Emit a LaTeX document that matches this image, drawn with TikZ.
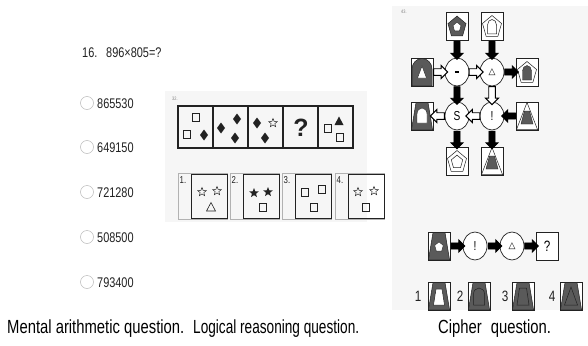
\documentclass[tikz,border=0pt]{standalone}
\usepackage{fontspec}
\setmainfont[FakeStretch=0.78]{Liberation Sans}
\newfontfamily\widesans{Liberation Sans}
\newfontfamily\symsans{DejaVu Sans}
\usetikzlibrary{shapes.geometric,shapes.arrows}
\definecolor{dk}{HTML}{5A5A5A}
\definecolor{panelbg}{HTML}{F6F6F6}
\definecolor{ink}{HTML}{222222}

% cipher glyph outlines, drawn round the local origin (y grows downwards)
\newcommand\cpent[1]{(0,{1-1.15*#1}) -- ({0.951*#1},{1-0.355*#1}) -- ({0.588*#1},{1+0.93*#1}) -- ({-0.588*#1},{1+0.93*#1}) -- ({-0.951*#1},{1-0.355*#1}) -- cycle}
\newcommand\carch[4]{(-#1,#2) -- (-#1,#3) arc[start angle=180,end angle=360,x radius=#1,y radius=#4] -- (#1,#2) -- cycle}
\newcommand\ctrap[4]{(-#1,#3) -- (#1,#3) -- (#2,#4) -- (-#2,#4) -- cycle}
\newcommand\ctri[3]{(0,#3) -- (#1,#2) -- (-#1,#2) -- cycle}

\tikzset{
  sqr/.pic={\draw[ink,line width=0.6pt] (-3.5,-4) rectangle (3.5,4);},
  dmd/.pic={\fill[ink] (0,-5.5) -- (4,0) -- (0,5.5) -- (-4,0) -- cycle;},
  solidtri/.pic={\fill[ink] (0,-4.5) -- (4.5,4) -- (-4.5,4) -- cycle;},
  hollowtri/.pic={\draw[ink,line width=0.6pt] (0,-4.5) -- (4.5,4) -- (-4.5,4) -- cycle;},
  hollowstar/.pic={\node[star,star points=5,star point ratio=2.3,draw=ink,line width=0.5pt,minimum size=9pt,inner sep=0pt]{};},
  solidstar/.pic={\node[star,star points=5,star point ratio=2.3,fill=ink,minimum size=10pt,inner sep=0pt]{};},
  txt/.style={anchor=base west,text=ink,inner sep=0pt},
  radio/.style={circle,draw=gray!55,line width=0.5pt,minimum size=13pt,inner sep=0pt},
  icon/.style={draw=ink,line width=0.7pt,fill=white,minimum width=22pt,minimum height=28pt,inner sep=0pt},
  oval/.style={ellipse,draw=ink,line width=0.7pt,fill=white,minimum width=24pt,minimum height=28pt,inner sep=0pt,font=\fontsize{13}{13}\selectfont},
  barrow/.style={single arrow,draw=black,line width=0.6pt,inner xsep=0pt,inner ysep=2.8pt,single arrow head extend=3.2pt,minimum width=0pt,allow upside down,sloped},
  blk/.style={barrow,fill=black},
  wht/.style={barrow,fill=white,line width=0.95pt},
  hlen/.style={minimum height=14pt},
  vlen/.style={minimum height=18pt},
}

\begin{document}
\begin{tikzpicture}[x=1pt,y=-1pt]
\useasboundingbox (0,0) rectangle (588,345);
\fill[white] (0,0) rectangle (588,345);

% ---------- mental arithmetic ----------
\node[txt,font=\fontsize{14}{14}\selectfont] (qnum) at (82,57) {16.};
\node[txt,font=\fontsize{14}{14}\selectfont] (qexp) at (106,57) {896×805=?};
\foreach \i/\y/\v in {1/103/865530,2/147/649150,3/192/721280,4/237/508500,5/282/793400}{
  \node[radio] (r\i) at (87,\y) {};
  \node[txt,font=\fontsize{14}{14}\selectfont] (a\i) at (97,\y+5) {\v};
}

% ---------- logical reasoning ----------
\fill[panelbg] (165,91) rectangle (367,222);
\node[anchor=base west,font=\fontsize{5}{5}\selectfont,text=gray,inner sep=0pt] (lnum) at (172,100) {32.};
\draw[ink,line width=1.1pt] (178,106) rectangle (353,148);
\foreach \x in {213,248,283,318} \draw[ink,line width=1.1pt] (\x,106) -- (\x,148);
% cell 1
\pic at (196,117) {sqr};
\pic at (187,134) {sqr};
\pic at (204,135) {dmd};
% cell 2
\pic at (221,128) {dmd};
\pic at (237,119) {dmd};
\pic at (235,138) {dmd};
% cell 3
\pic at (257,123) {dmd};
\pic at (273,123) {hollowstar};
\pic at (265,138) {dmd};
% cell 4
\node[font=\widesans\bfseries\fontsize{25}{25}\selectfont,text=ink,inner sep=0pt] (qmark) at (301,128) {?};
% cell 5
\pic at (328,128) {sqr};
\pic at (339,121) {solidtri};
\pic at (340,137) {sqr};
% answer choices
\foreach \k/\x in {1/178,2/230,3/282,4/335}{
  \draw[gray!60,line width=0.7pt] (\x,173) rectangle (\x+49,219);
  \draw[ink,line width=0.9pt] (\x+13,174) rectangle (\x+49,218);
  \node[anchor=north west,font=\fontsize{10}{10}\selectfont,text=ink,inner sep=0pt] (lab\k) at (\x+1.5,176) {\k.};
}
\pic at (202,192) {hollowstar};
\pic at (217,191) {hollowstar};
\pic at (211,207) {hollowtri};
\pic at (254,193) {solidstar};
\pic at (268,192) {solidstar};
\pic at (263,207) {sqr};
\pic at (305,192) {sqr};
\pic at (322,189) {sqr};
\pic at (314,207) {sqr};
\pic at (358,192) {hollowstar};
\pic at (374,191) {hollowstar};
\pic at (366,207) {sqr};

% ---------- cipher ----------
\fill[panelbg] (392,6) rectangle (588,310);
\node[anchor=base west,font=\fontsize{5}{5}\selectfont,text=gray,inner sep=0pt] (cnum) at (401,14) {43.};

\node[icon] (ta) at (457,26) {};
\begin{scope}[shift={(ta.center)}]
  \filldraw[fill=dk,draw=ink,line width=0.5pt] \cpent{9.5};
  \filldraw[fill=white,draw=ink,line width=0.4pt] \cpent{4.2};
\end{scope}
\node[icon] (tb) at (492,26) {};
\begin{scope}[shift={(tb.center)}]
  \draw[ink,line width=0.5pt] \cpent{10};
  \draw[ink,line width=0.5pt] \carch{4.5}{8}{-1}{5.5};
\end{scope}
\node[icon] (la) at (422,72) {};
\begin{scope}[shift={(la.center)}]
  \filldraw[fill=dk,draw=ink,line width=0.5pt] \carch{10}{13.5}{-3}{10.5};
  \filldraw[fill=white,draw=ink,line width=0.4pt] \ctri{4.5}{6}{-6};
\end{scope}
\node[icon] (ra) at (527,72) {};
\begin{scope}[shift={(ra.center)}]
  \draw[ink,line width=0.5pt] \cpent{10};
  \filldraw[fill=dk,draw=ink,line width=0.4pt] \carch{4.5}{8}{-1}{5.5};
\end{scope}
\node[icon] (lb) at (422,116) {};
\begin{scope}[shift={(lb.center)}]
  \filldraw[fill=dk,draw=ink,line width=0.5pt] \ctrap{10.5}{6}{13.5}{-13.5};
  \filldraw[fill=white,draw=ink,line width=0.4pt] \carch{5}{7}{-2}{6};
\end{scope}
\node[icon] (rb) at (527,116) {};
\begin{scope}[shift={(rb.center)}]
  \draw[ink,line width=0.5pt] \ctri{10.5}{13.5}{-13.5};
  \filldraw[fill=dk,draw=ink,line width=0.4pt] \ctrap{6}{2.5}{8}{-5};
\end{scope}
\node[icon] (ba) at (457,161) {};
\begin{scope}[shift={(ba.center)}]
  \draw[ink,line width=0.5pt] \cpent{10};
  \draw[ink,line width=0.5pt] \cpent{6};
\end{scope}
\node[icon] (bb) at (492,161) {};
\begin{scope}[shift={(bb.center)}]
  \draw[ink,line width=0.5pt] \ctri{10.5}{13.5}{-13.5};
  \filldraw[fill=dk,draw=ink,line width=0.4pt] \ctrap{6}{2.5}{8}{-5};
\end{scope}

\node[oval] (c1) at (457,72) {\rule{4.5pt}{1.7pt}};
\node[oval] (c2) at (492,72) {\symsans\fontsize{9}{9}\selectfont △};
\node[oval] (c3) at (457,116) {S};
\node[oval] (c4) at (492,116) {!};

\path (ta) -- (c1) node[midway,blk,vlen] {};
\path (tb) -- (c2) node[midway,blk,vlen] {};
\path (la) -- (c1) node[midway,wht,hlen] {};
\path (c1) -- (c2) node[midway,wht,hlen] {};
\path (c2) -- (ra) node[midway,blk,hlen] {};
\path (c1) -- (c3) node[midway,blk,vlen] {};
\path (c2) -- (c4) node[midway,wht,vlen] {};
\path (c3) -- (lb) node[midway,wht,hlen] {};
\path (c4) -- (c3) node[midway,wht,hlen] {};
\path (rb) -- (c4) node[midway,blk,hlen] {};
\path (c3) -- (ba) node[midway,blk,vlen] {};
\path (c4) -- (bb) node[midway,blk,vlen] {};

% question row
\node[icon] (q0) at (439,246) {};
\begin{scope}[shift={(q0.center)}]
  \filldraw[fill=dk,draw=ink,line width=0.5pt] \ctrap{10.5}{6}{13.5}{-13.5};
  \filldraw[fill=white,draw=ink,line width=0.4pt] \cpent{4.5};
\end{scope}
\node[oval] (q1) at (475,246) {!};
\node[oval] (q2) at (512,246) {\symsans\fontsize{9}{9}\selectfont △};
\node[icon,font=\fontsize{15}{15}\selectfont] (q3) at (547,246) {?};
\path (q0) -- (q1) node[midway,blk,hlen] {};
\path (q1) -- (q2) node[midway,blk,hlen] {};
\path (q2) -- (q3) node[midway,blk,hlen] {};

% answer choices
\foreach \k/\lx/\ix in {1/418/439,2/460/479,3/505/523,4/552/571}{
  \node[font=\fontsize{15}{15}\selectfont,text=ink,inner sep=0pt] (n\k) at (\lx,296) {\k};
  \node[icon] (o\k) at (\ix,296) {};
  \begin{scope}[shift={(o\k.center)}]
    \filldraw[fill=dk,draw=ink,line width=0.5pt] \ctrap{10.5}{6}{13.5}{-13.5};
  \end{scope}
}
\begin{scope}[shift={(o1.center)}]
  \filldraw[fill=white,draw=ink,line width=0.5pt] \ctrap{5.5}{3}{9}{-7};
\end{scope}
\begin{scope}[shift={(o2.center)}]
  \draw[ink,line width=0.5pt] \carch{5.5}{9}{-2}{6};
\end{scope}
\begin{scope}[shift={(o3.center)}]
  \draw[ink,line width=0.5pt] \ctrap{6}{3.5}{9}{-8};
\end{scope}
\begin{scope}[shift={(o4.center)}]
  \draw[ink,line width=0.5pt] \ctri{6.5}{9}{-9};
\end{scope}

% ---------- captions ----------
\node[txt,text=black,font=\fontsize{19}{19}\selectfont] (cap1) at (7,333) {Mental arithmetic question.};
\node[txt,text=black,font=\fontsize{19}{19}\selectfont] (cap2) at (193,333) {\scalebox{0.92}[1]{Logical reasoning question.}};
\node[txt,text=black,font=\fontsize{19}{19}\selectfont] (cap3) at (438,333) {Cipher\hspace{9pt}question.};
\end{tikzpicture}
\end{document}
